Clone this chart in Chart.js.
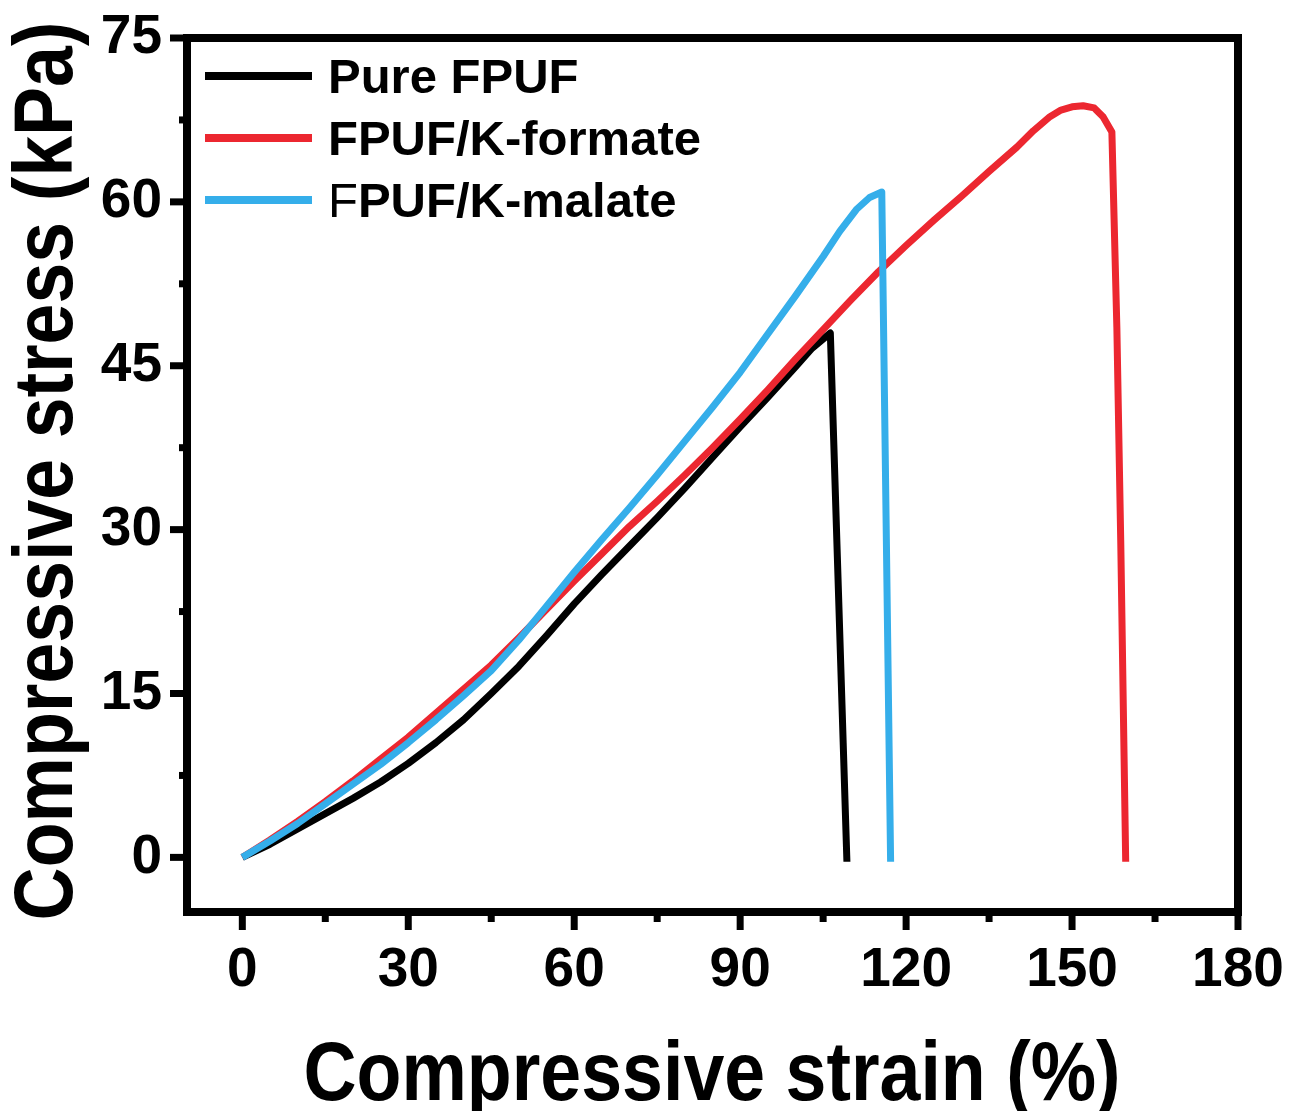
<!DOCTYPE html>
<html>
<head>
<meta charset="utf-8">
<script src="https://cdn.jsdelivr.net/npm/chart.js@4/dist/chart.umd.min.js"></script>
<style>
    body { margin: 0; background: #fff; }
    #contenedor { width: 1292px; height: 1111px; position: relative; }
</style>
</head>
<body>
<div id="contenedor"><canvas id="myChart"></canvas></div>
<script>
// Datos (deformación %, esfuerzo kPa)
const deformacionPuro = [0, 5, 10, 15, 20, 25, 30, 35, 40, 45, 50, 55, 60, 65, 70, 75, 80, 85, 90, 95, 100, 103, 106.3, 109.3];
const esfuerzoPuro = [0, 1.2, 2.6, 4.0, 5.4, 6.9, 8.6, 10.5, 12.6, 15.0, 17.5, 20.3, 23.2, 25.9, 28.5, 31.1, 33.8, 36.6, 39.4, 42.1, 44.9, 46.6, 48.0, -0.4];

const deformacionFormiato = [0, 5, 10, 15, 20, 25, 30, 35, 40, 45, 50, 55, 60, 65, 70, 75, 80, 85, 90, 95, 100, 105, 110, 115, 120, 125, 130, 135, 140, 143, 146, 148, 150, 152, 154, 155.6, 157.2, 158.1, 158.8, 159.7];
const esfuerzoFormiato = [0, 1.6, 3.3, 5.1, 7.0, 9.0, 11.0, 13.2, 15.4, 17.6, 20.1, 22.7, 25.3, 27.8, 30.3, 32.6, 35.0, 37.5, 40.1, 42.8, 45.6, 48.3, 51.0, 53.6, 56.0, 58.3, 60.5, 62.8, 65.0, 66.5, 67.8, 68.4, 68.7, 68.8, 68.6, 67.8, 66.4, 48.5, 29.0, -0.4];

const deformacionMalato = [0, 5, 10, 15, 20, 25, 30, 35, 40, 45, 50, 55, 60, 65, 70, 75, 80, 85, 90, 95, 100, 105, 108, 111, 113.4, 115.6, 117.2];
const esfuerzoMalato = [0, 1.5, 3.1, 4.9, 6.7, 8.5, 10.5, 12.6, 14.8, 17.1, 19.9, 23.0, 26.1, 29.1, 32.0, 35.0, 38.1, 41.2, 44.4, 47.9, 51.4, 55.0, 57.3, 59.3, 60.4, 60.9, -0.4];

const ticksX = [0, 30, 60, 90, 120, 150, 180];
const ticksXMenores = [15, 45, 75, 105, 135, 165];
const ticksY = [0, 15, 30, 45, 60, 75];
const ticksYMenores = [7.5, 22.5, 37.5, 52.5, 67.5];

const nombres = ["Pure FPUF", "FPUF/K-formate", "FPUF/K-malate"];
const colores = ["#000000", "#EC2730", "#35AEEA"];

const FUENTE = '"Liberation Sans", Arial, sans-serif';

function aPuntos(xs, ys) {
    return xs.map((x, i) => ({ x: x, y: ys[i] }));
}

// Quitar el relleno automático que Chart.js reserva para las etiquetas
function sinRelleno(s) {
    s.paddingTop = 0;
    s.paddingBottom = 0;
    s.paddingLeft = 0;
    s.paddingRight = 0;
}

/**
 * Marco grueso, marcas de los ejes, leyenda y títulos
 */
const pluginMarco = {
    id: "marco",
    afterDraw(chart) {
        const { ctx, chartArea: a, scales: { x, y } } = chart;
        ctx.save();
        ctx.strokeStyle = "#000";
        ctx.lineWidth = 8;
        ctx.strokeRect(a.left, a.top, a.right - a.left, a.bottom - a.top);

        // Marcas mayores y menores
        ctx.lineWidth = 7;
        ctx.lineCap = "butt";
        const linea = (x1, y1, x2, y2) => {
            ctx.beginPath();
            ctx.moveTo(x1, y1);
            ctx.lineTo(x2, y2);
            ctx.stroke();
        };
        ticksX.forEach(v => { const px = x.getPixelForValue(v); linea(px, a.bottom, px, a.bottom + 18); });
        ticksXMenores.forEach(v => { const px = x.getPixelForValue(v); linea(px, a.bottom, px, a.bottom + 10); });
        ticksY.forEach(v => { const py = y.getPixelForValue(v); linea(a.left, py, a.left - 17, py); });
        ticksYMenores.forEach(v => { const py = y.getPixelForValue(v); linea(a.left, py, a.left - 8, py); });

        // Leyenda
        const filas = [76, 138, 200];
        ctx.lineWidth = 8;
        filas.forEach((fy, i) => {
            ctx.strokeStyle = colores[i];
            linea(205, fy, 312, fy);
            ctx.fillStyle = "#000";
            ctx.textBaseline = "alphabetic";
            ctx.textAlign = "left";
            const base = fy + 17;
            if (i === 2) {
                // la primera F aparece sin negrita en el original
                ctx.font = "49px " + FUENTE;
                ctx.fillText("F", 328, base);
                const w = ctx.measureText("F").width;
                ctx.font = "bold 49px " + FUENTE;
                ctx.fillText(nombres[i].slice(1), 328 + w, base);
            } else {
                ctx.font = "bold 49px " + FUENTE;
                ctx.fillText(nombres[i], 328, base);
            }
        });

        // Títulos de los ejes (letra estrecha)
        ctx.fillStyle = "#000";
        ctx.font = "bold 84px " + FUENTE;
        ctx.textAlign = "center";
        ctx.textBaseline = "alphabetic";
        ctx.save();
        ctx.translate(712, 1100);
        ctx.scale(0.875, 1);
        ctx.fillText("Compressive strain (%)", 0, 0);
        ctx.restore();

        ctx.save();
        ctx.translate(72, 471);
        ctx.rotate(-Math.PI / 2);
        ctx.scale(0.875, 1);
        ctx.fillText("Compressive stress (kPa)", 0, 0);
        ctx.restore();

        ctx.restore();
    }
};

const datasets = [
    { label: nombres[0], data: aPuntos(deformacionPuro, esfuerzoPuro), borderColor: colores[0], order: 2 },
    { label: nombres[1], data: aPuntos(deformacionFormiato, esfuerzoFormiato), borderColor: colores[1], order: 1 },
    { label: nombres[2], data: aPuntos(deformacionMalato, esfuerzoMalato), borderColor: colores[2], order: 0 }
].map(d => Object.assign(d, {
    borderWidth: 7,
    pointRadius: 0,
    tension: 0,
    fill: false,
    borderJoinStyle: "round",
    borderCapStyle: "butt"
}));

new Chart(document.getElementById("myChart").getContext("2d"), {
    type: "line",
    data: { datasets: datasets },
    plugins: [pluginMarco],
    options: {
        responsive: true,
        maintainAspectRatio: false,
        animation: false,
        layout: { padding: { top: 38, right: 54, left: 0, bottom: 0 } },
        plugins: {
            legend: { display: false },
            tooltip: { enabled: false }
        },
        scales: {
            x: {
                type: "linear",
                min: -10,
                max: 180,
                border: { display: false },
                grid: { display: false },
                afterBuildTicks: s => { s.ticks = ticksX.map(v => ({ value: v })); },
                afterFit: s => { s.height = 199; sinRelleno(s); },
                ticks: {
                    color: "#000",
                    padding: 18,
                    maxRotation: 0,
                    font: { family: FUENTE, size: 55, weight: "bold" }
                }
            },
            y: {
                type: "linear",
                min: -5,
                max: 75,
                border: { display: false },
                grid: { display: false },
                afterBuildTicks: s => { s.ticks = ticksY.map(v => ({ value: v })); },
                afterFit: s => { s.width = 187; sinRelleno(s); },
                ticks: {
                    color: "#000",
                    padding: 17,
                    font: { family: FUENTE, size: 55, weight: "bold" }
                }
            }
        }
    }
});
</script>
</body>
</html>
